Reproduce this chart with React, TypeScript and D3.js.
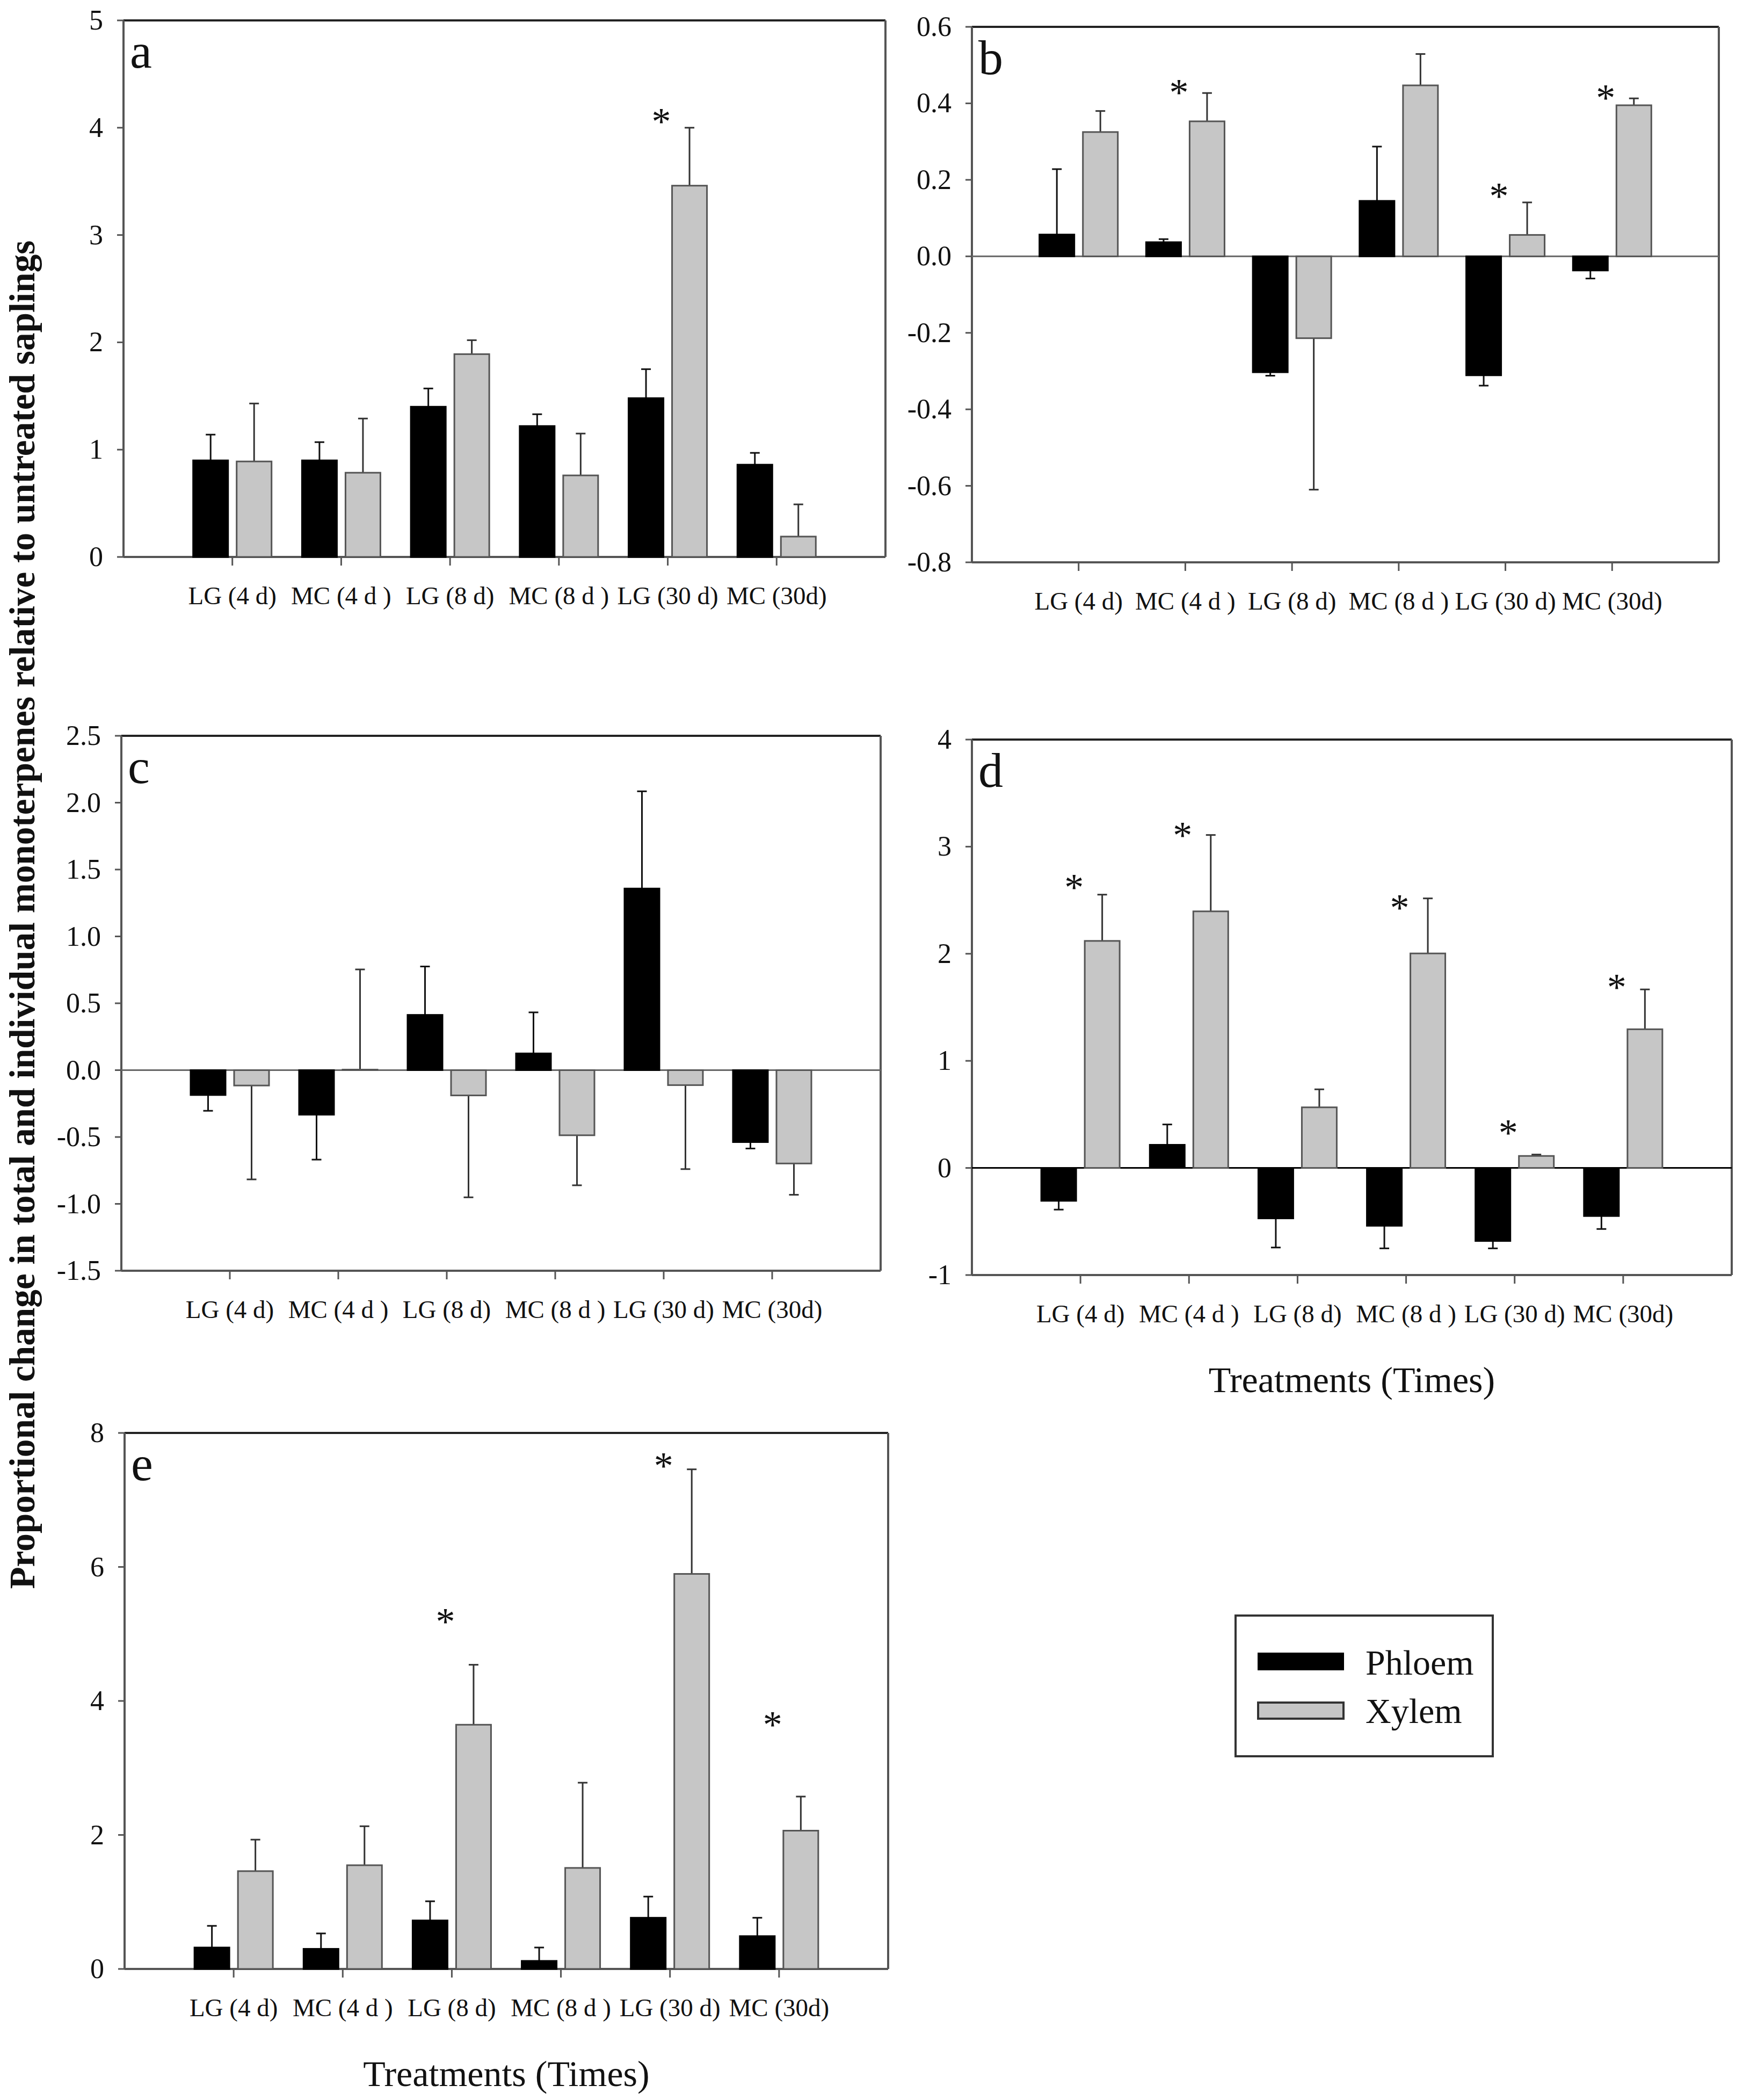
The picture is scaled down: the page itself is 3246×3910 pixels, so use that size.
import React from "react";
import * as d3 from "d3";

const categories = ["LG (4 d)", "MC (4 d )", "LG (8 d)", "MC (8 d )", "LG (30 d)", "MC (30d)"];

const aPhloem = [0.9, 0.9, 1.4, 1.22, 1.48, 0.86];
const aPhloemSE = [0.24, 0.17, 0.17, 0.11, 0.27, 0.11];
const aXylem = [0.89, 0.785, 1.89, 0.76, 3.46, 0.19];
const aXylemSE = [0.54, 0.505, 0.13, 0.39, 0.54, 0.3];
const aSig = [{ i: 4, y: 4.12 }];
const aTicks = [0, 1, 2, 3, 4, 5];

const bPhloem = [0.057, 0.037, -0.303, 0.145, -0.311, -0.037];
const bPhloemSE = [0.171, 0.008, 0.009, 0.142, 0.027, 0.021];
const bXylem = [0.325, 0.353, -0.214, 0.447, 0.056, 0.395];
const bXylemSE = [0.055, 0.074, 0.396, 0.082, 0.085, 0.018];
const bSig = [{ i: 1, y: 0.445 }, { i: 4, y: 0.174 }, { i: 5, y: 0.432 }];
const bTicks = [-0.8, -0.6, -0.4, -0.2, 0.0, 0.2, 0.4, 0.6];

const cPhloem = [-0.186, -0.333, 0.413, 0.125, 1.358, -0.538];
const cPhloemSE = [0.118, 0.336, 0.362, 0.307, 0.727, 0.048];
const cXylem = [-0.115, 0.004, -0.189, -0.487, -0.112, -0.698];
const cXylemSE = [0.702, 0.749, 0.762, 0.374, 0.628, 0.234];
const cSig: { i: number; y: number }[] = [];
const cTicks = [-1.5, -1.0, -0.5, 0.0, 0.5, 1.0, 1.5, 2.0, 2.5];

const dPhloem = [-0.307, 0.216, -0.471, -0.54, -0.682, -0.449];
const dPhloemSE = [0.082, 0.19, 0.272, 0.211, 0.069, 0.121];
const dXylem = [2.12, 2.396, 0.566, 2.003, 0.112, 1.295];
const dXylemSE = [0.432, 0.713, 0.168, 0.514, 0.013, 0.372];
const dSig = [{ i: 0, y: 2.68 }, { i: 1, y: 3.17 }, { i: 3, y: 2.49 }, { i: 4, y: 0.39 }, { i: 5, y: 1.75 }];
const dTicks = [-1, 0, 1, 2, 3, 4];

const ePhloem = [0.32, 0.3, 0.724, 0.12, 0.764, 0.49];
const ePhloemSE = [0.323, 0.23, 0.286, 0.2, 0.316, 0.274];
const eXylem = [1.46, 1.548, 3.645, 1.508, 5.896, 2.064];
const eXylemSE = [0.47, 0.582, 0.895, 1.272, 1.561, 0.509];
const eSig = [{ i: 2, y: 5.28 }, { i: 4, y: 7.61 }, { i: 5, y: 3.74 }];
const eTicks = [0, 2, 4, 6, 8];

const seriesNames = ["Phloem", "Xylem"];
const yTitle = "Proportional change in total and individual monoterpenes relative to untreated saplings";
const xTitle = "Treatments (Times)";

const FONT = "'Liberation Serif', 'Times New Roman', serif";
const BLACK = "#000";
const GRAY = "#c6c6c6";
const GRAY_STROKE = "#555";
const AXIS = "#555";

type PanelProps = {
  letter: string;
  L: number; R: number; T: number; B: number;
  domain: [number, number];
  ticks: number[];
  fmt: (v: number) => string;
  phloem: number[]; phloemSE: number[];
  xylem: number[]; xylemSE: number[];
  sig: { i: number; y: number }[];
  zeroLine: boolean;
  zeroColor: string;
  showXTitle: boolean;
};

function Panel(p: PanelProps) {
  const x = d3.scalePoint<string>().domain(categories).range([p.L, p.R]).padding(1);
  const y = d3.scaleLinear().domain(p.domain).range([p.B, p.T]);
  const bw = 65;
  const gap = 16;
  const y0 = y(0);
  const capW = 18;

  const bars: JSX.Element[] = [];
  categories.forEach((c, i) => {
    const cx = x(c) as number;
    const series = [
      { v: p.phloem[i], se: p.phloemSE[i], x0: cx - gap / 2 - bw, fill: BLACK, stroke: BLACK, err: "#111" },
      { v: p.xylem[i], se: p.xylemSE[i], x0: cx + gap / 2, fill: GRAY, stroke: GRAY_STROKE, err: "#333" },
    ];
    series.forEach((s, k) => {
      const yv = y(s.v);
      const top = Math.min(yv, y0);
      const h = Math.abs(yv - y0);
      const end = s.v >= 0 ? s.v + s.se : s.v - s.se;
      const ye = y(end);
      const mx = s.x0 + bw / 2;
      bars.push(
        <g key={`${c}-${k}`}>
          <line x1={mx} x2={mx} y1={yv} y2={ye} stroke={s.err} strokeWidth={3} />
          <line x1={mx - capW / 2} x2={mx + capW / 2} y1={ye} y2={ye} stroke={s.err} strokeWidth={3} />
          <rect x={s.x0} y={top} width={bw} height={Math.max(h, 1)} fill={s.fill} stroke={s.stroke} strokeWidth={3} />
        </g>
      );
    });
  });

  return (
    <g>
      {/* frame */}
      <line x1={p.L} x2={p.R} y1={p.T} y2={p.T} stroke="#222" strokeWidth={4} />
      <line x1={p.R} x2={p.R} y1={p.T} y2={p.B} stroke={AXIS} strokeWidth={4} />
      <line x1={p.L} x2={p.L} y1={p.T} y2={p.B} stroke={AXIS} strokeWidth={4} />
      <line x1={p.L} x2={p.R} y1={p.B} y2={p.B} stroke={AXIS} strokeWidth={4} />
      {p.zeroLine && <line x1={p.L} x2={p.R} y1={y0} y2={y0} stroke={p.zeroColor} strokeWidth={3} />}
      {/* y ticks */}
      {p.ticks.map((t) => (
        <g key={`yt${t}`}>
          <line x1={p.L - 12} x2={p.L} y1={y(t)} y2={y(t)} stroke={AXIS} strokeWidth={3} />
          <text x={p.L - 38} y={y(t) + 17} textAnchor="end" fontSize={52} fontFamily={FONT} fill="#111">
            {p.fmt(t)}
          </text>
        </g>
      ))}
      {/* x ticks */}
      {categories.map((c) => (
        <g key={`xt${c}`}>
          <line x1={x(c)} x2={x(c)} y1={p.B} y2={p.B + 16} stroke={AXIS} strokeWidth={3} />
          <text x={x(c)} y={p.B + 88} textAnchor="middle" fontSize={47} fontFamily={FONT} fill="#111">
            {c}
          </text>
        </g>
      ))}
      {bars}
      {p.sig.map((s, k) => (
        <text key={`s${k}`} x={(x(categories[s.i]) as number) - 12} y={y(s.y) + 36} textAnchor="middle" fontSize={72} fontFamily={FONT} fill="#111">
          *
        </text>
      ))}
      <text x={p.L + 12} y={p.T + 88} fontSize={92} fontFamily={FONT} fill="#111">
        {p.letter}
      </text>
      {p.showXTitle && (
        <text x={(p.L + p.R) / 2} y={p.B + 218} textAnchor="middle" fontSize={68} fontFamily={FONT} fill="#111">
          {xTitle}
        </text>
      )}
    </g>
  );
}

const fmtInt = (v: number) => d3.format("d")(v).replace("\u2212", "-");
const fmt1 = (v: number) => d3.format(".1f")(v).replace("\u2212", "-");

export default function App() {
  return (
    <svg
      width={3246}
      height={3910}
      viewBox="0 0 3246 3910"
      style={{ position: "absolute", left: 0, top: 0, background: "#fff" }}
    >
      <rect x={0} y={0} width={3246} height={3910} fill="#fff" />
      <Panel letter="a" L={230} R={1649} T={38} B={1037} domain={[0, 5]} ticks={aTicks} fmt={fmtInt}
        phloem={aPhloem} phloemSE={aPhloemSE} xylem={aXylem} xylemSE={aXylemSE} sig={aSig}
        zeroLine={false} zeroColor={AXIS} showXTitle={false} />
      <Panel letter="b" L={1810} R={3201} T={50} B={1047} domain={[-0.8, 0.6]} ticks={bTicks} fmt={fmt1}
        phloem={bPhloem} phloemSE={bPhloemSE} xylem={bXylem} xylemSE={bXylemSE} sig={bSig}
        zeroLine={true} zeroColor="#666" showXTitle={false} />
      <Panel letter="c" L={226} R={1640} T={1370} B={2366} domain={[-1.5, 2.5]} ticks={cTicks} fmt={fmt1}
        phloem={cPhloem} phloemSE={cPhloemSE} xylem={cXylem} xylemSE={cXylemSE} sig={cSig}
        zeroLine={true} zeroColor="#666" showXTitle={false} />
      <Panel letter="d" L={1810} R={3225} T={1377} B={2374} domain={[-1, 4]} ticks={dTicks} fmt={fmtInt}
        phloem={dPhloem} phloemSE={dPhloemSE} xylem={dXylem} xylemSE={dXylemSE} sig={dSig}
        zeroLine={true} zeroColor="#000" showXTitle={true} />
      <Panel letter="e" L={232} R={1654} T={2668} B={3666} domain={[0, 8]} ticks={eTicks} fmt={fmtInt}
        phloem={ePhloem} phloemSE={ePhloemSE} xylem={eXylem} xylemSE={eXylemSE} sig={eSig}
        zeroLine={false} zeroColor={AXIS} showXTitle={true} />
      {/* y title */}
      <text
        transform="translate(64,1703) rotate(-90)"
        textAnchor="middle"
        fontSize={68}
        fontWeight="bold"
        fontFamily={FONT}
        fill="#111"
        textLength={2511}
        lengthAdjust="spacingAndGlyphs"
      >
        {yTitle}
      </text>
      {/* legend */}
      <g>
        <rect x={2301} y={3008} width={479} height={262} fill="#fff" stroke="#333" strokeWidth={4} />
        <rect x={2343} y={3078} width={159} height={31} fill={BLACK} stroke={BLACK} strokeWidth={2} />
        <rect x={2343} y={3170} width={159} height={30} fill={GRAY} stroke="#333" strokeWidth={4} />
        <text x={2543} y={3118} fontSize={66} fontFamily={FONT} fill="#111">{seriesNames[0]}</text>
        <text x={2543} y={3208} fontSize={66} fontFamily={FONT} fill="#111">{seriesNames[1]}</text>
      </g>
    </svg>
  );
}
